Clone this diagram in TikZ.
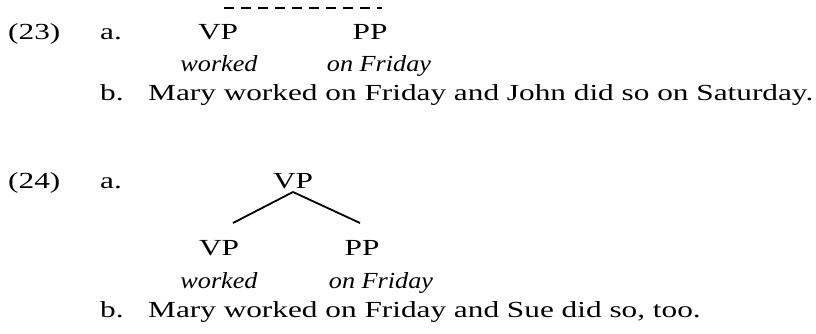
\documentclass[tikz,border=0pt]{standalone}
\usepackage{fontspec}
\setmainfont{Liberation Serif}[FakeStretch=1.36]
\newfontfamily\glossfont{Liberation Serif}[FakeStretch=1.14]
\usetikzlibrary{calc}
\tikzset{
  txt/.style={anchor=base,inner sep=0pt,font=\fontsize{23}{27}\selectfont},
  lft/.style={txt,anchor=base west},
  gl/.style={txt,font=\fontsize{23}{27}\selectfont\glossfont\itshape},
  branch/.style={line width=1.8pt},
  dashline/.style={line width=2.8pt,dash pattern=on 10pt off 7pt}
}
\begin{document}
\begin{tikzpicture}[x=1pt,y=-1pt]
\useasboundingbox (0,0) rectangle (816,334);
% (23)
\node[lft] (n23) at (8,40) {(23)};
\node[lft] (a23) at (100,40) {a.};
\node[txt] (vp23) at (218,40) {VP};
\node[txt] (pp23) at (370,40) {PP};
\node[gl] (w23) at (219,72) {worked};
\node[gl] (f23) at (379,72) {on Friday};
\node[lft] (b23) at (100,101) {b.};
\node[lft] (s23) at (148,101) {Mary worked on Friday and John did so on Saturday.};
\draw[dashline] ($(vp23.base)+(6,-32)$) -- ($(pp23.base)+(12,-32)$);
% (24)
\node[lft] (n24) at (8,188) {(24)};
\node[lft] (a24) at (100,188) {a.};
\node[txt] (vp24) at (293,188) {VP};
\node[txt] (vpl) at (219,255) {VP};
\node[txt] (ppl) at (362,255) {PP};
\node[gl] (w24) at (219,288) {worked};
\node[gl] (f24) at (381,288) {on Friday};
\node[lft] (b24) at (100,317) {b.};
\node[lft] (s24) at (148,317) {Mary worked on Friday and Sue did so, too.};
\coordinate (top) at ($(vp24.base)+(0,4)$);
\coordinate (le) at ($(vpl.base)+(14,-32)$);
\coordinate (re) at ($(ppl.base)+(-2,-32)$);
\draw[branch] (top) -- (le);
\draw[branch] (top) -- (re);
\end{tikzpicture}
\end{document}
